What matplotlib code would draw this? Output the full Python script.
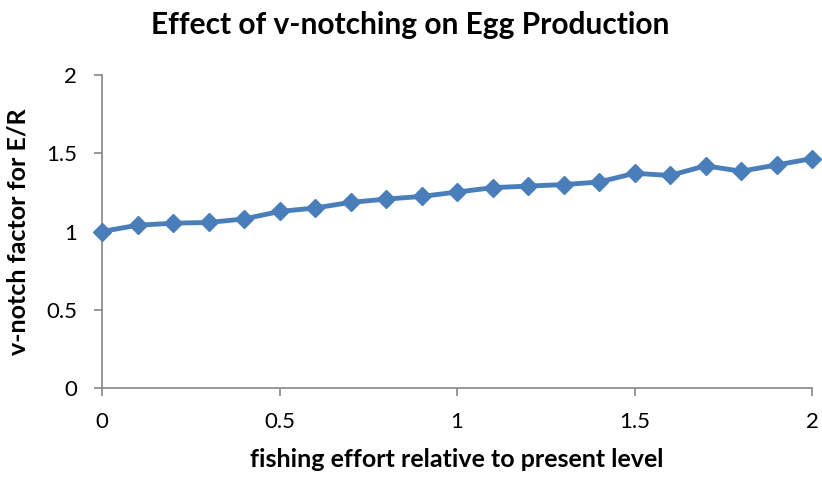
import numpy as np
import matplotlib.pyplot as plt

effort = [0, 0.1, 0.2, 0.3, 0.4, 0.5, 0.6, 0.7, 0.8, 0.9, 1.0,
          1.1, 1.2, 1.3, 1.4, 1.5, 1.6, 1.7, 1.8, 1.9, 2.0]
factor = [1.00, 1.04, 1.053, 1.058, 1.08, 1.128, 1.15, 1.186, 1.207, 1.224, 1.252,
          1.28, 1.29, 1.30, 1.316, 1.372, 1.358, 1.42, 1.385, 1.425, 1.466]
x_ticks = [0, 0.5, 1, 1.5, 2]
y_ticks = [0, 0.5, 1, 1.5, 2]

plt.rcParams['font.family'] = ['Lato', 'DejaVu Sans']

fig = plt.figure(figsize=(8.22, 4.8), dpi=100)
ax = fig.add_axes([102 / 822, 1 - 388 / 480, 710 / 822, 313 / 480])

ax.plot(effort, factor, color='#4a7ebb', linewidth=3.5, marker='D',
        markersize=9, markerfacecolor='#4a7ebb', markeredgecolor='#4a7ebb',
        clip_on=False, zorder=3)

ax.set_xlim(0, 2)
ax.set_ylim(0, 2)
ax.set_xticks(x_ticks)
ax.set_xticklabels(['0', '0.5', '1', '1.5', '2'])
ax.set_yticks(y_ticks)
ax.set_yticklabels(['0', '0.5', '1', '1.5', '2'])

for s in ['top', 'right']:
    ax.spines[s].set_visible(False)
for s in ['left', 'bottom']:
    ax.spines[s].set_color('#868686')
    ax.spines[s].set_linewidth(1.2)
ax.tick_params(axis='both', colors='#868686', labelcolor='black',
               labelsize=16, length=6, width=1.2, direction='out')
ax.tick_params(axis='x', pad=11)
ax.tick_params(axis='y', pad=12)

ax.set_xlabel('fishing effort relative to present level', fontsize=18,
              fontweight='bold', labelpad=12)
ax.set_ylabel('v-notch factor for E/R', fontsize=18, fontweight='bold',
              labelpad=12)
fig.text(410 / 822, 1 - 25 / 480, 'Effect of v-notching on Egg Production',
         ha='center', va='center', fontsize=21.5, fontweight='bold')

fig.savefig('out.png', dpi=100)
